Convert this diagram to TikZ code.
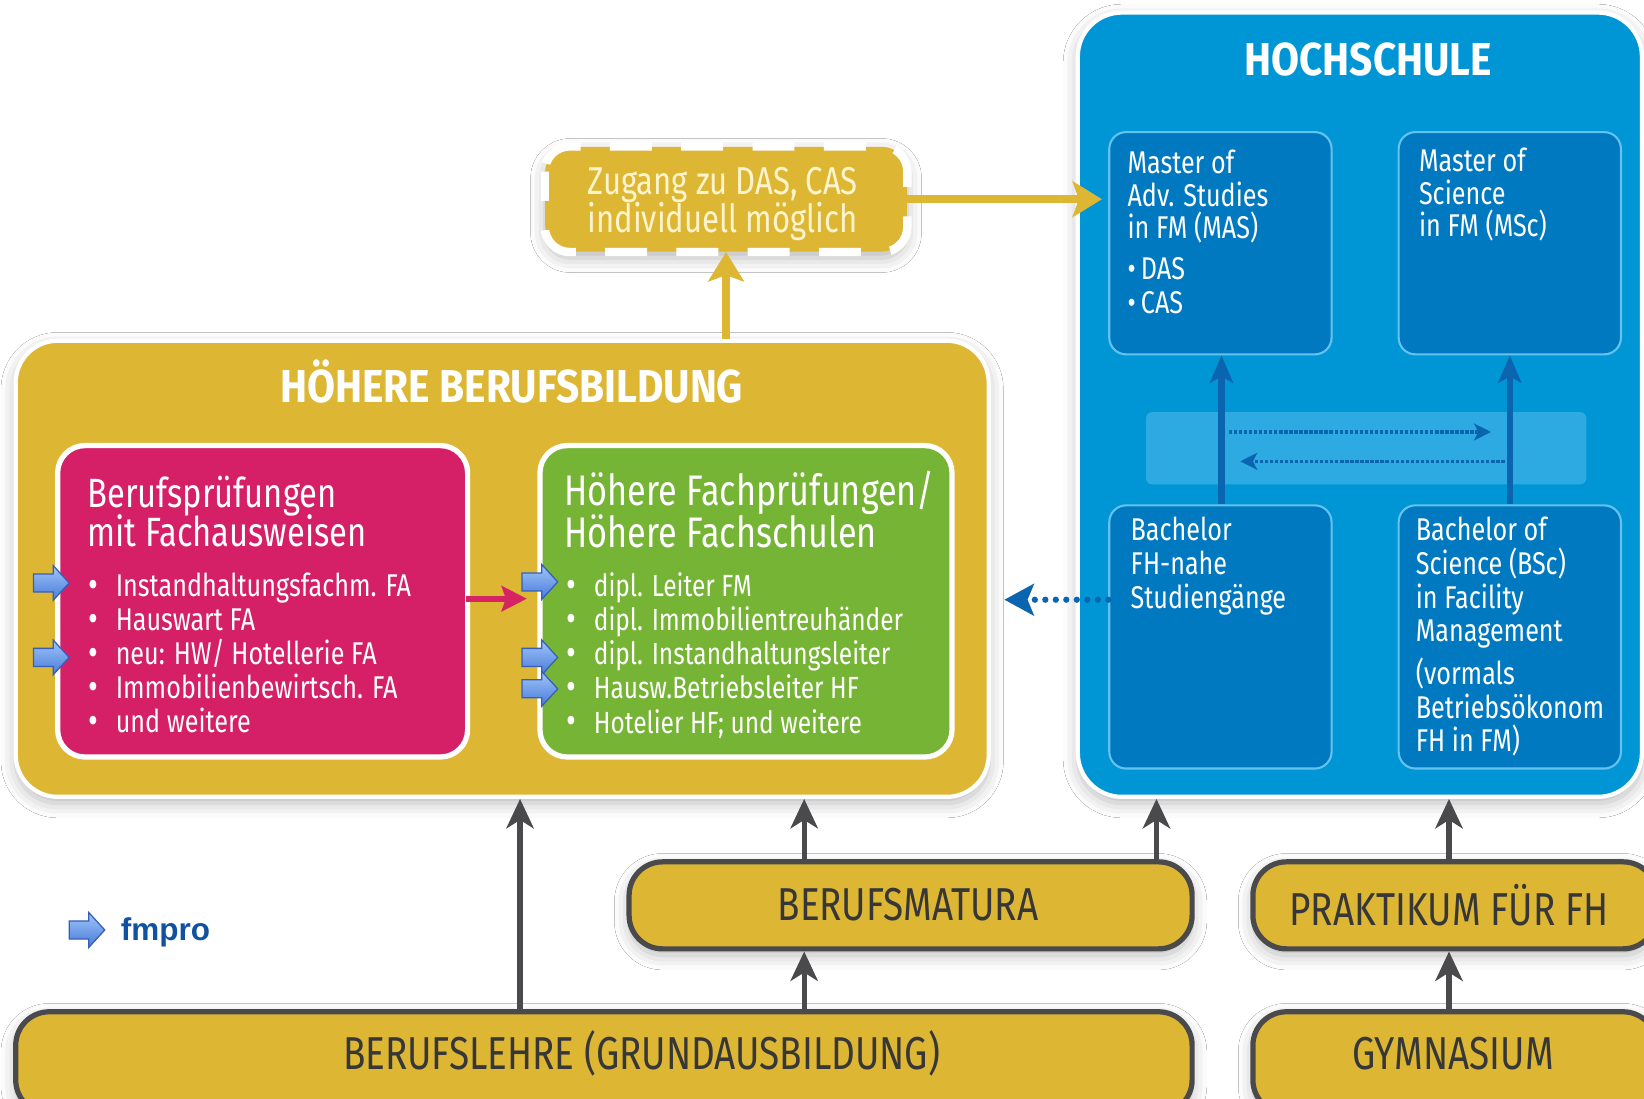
\documentclass[tikz,border=0pt]{standalone}
\usepackage{fontspec}
\setmainfont{Fira Sans}[FakeStretch=0.8]
\newfontfamily\headfont{Fira Sans}[FakeStretch=0.88]
\newfontfamily\fmfont{Liberation Sans}
\usetikzlibrary{arrows.meta,shapes.arrows,shadows.blur,fit,calc}
\definecolor{gold}{RGB}{221,183,52}
\definecolor{pinkbox}{RGB}{213,32,103}
\definecolor{greenbox}{RGB}{117,180,52}
\definecolor{hsblue}{RGB}{0,150,214}
\definecolor{innerblue}{RGB}{0,121,193}
\definecolor{innerline}{RGB}{100,195,238}
\definecolor{bandblue}{RGB}{45,170,226}
\definecolor{darkblue}{RGB}{10,100,175}
\definecolor{greyline}{RGB}{74,74,76}
\definecolor{greytext}{RGB}{55,55,55}
\definecolor{cream}{RGB}{255,244,205}
\definecolor{fmblue}{RGB}{16,82,160}
\definecolor{arrowlight}{RGB}{160,198,248}
\definecolor{arrowdark}{RGB}{72,122,218}
\definecolor{arrowedge}{RGB}{55,95,185}
\definecolor{redarrow}{RGB}{214,36,98}
\newcommand\fsz[2]{\fontsize{#1}{#2}\selectfont\lineskiplimit=-30pt\relax}
\newcommand\bul{\makebox[13pt][l]{\smash{\raisebox{-0.4pt}{\fontsize{18}{18}\selectfont\textbullet}}}}
\tikzset{
  shade/.style={blur shadow={shadow xshift=0pt, shadow yshift=-3pt, shadow blur radius=7pt, shadow opacity=28}},
  boxfit/.style={inner sep=0pt, fit={#1}},
  bigbox/.style={draw=white, line width=2pt, rounded corners=21pt, shade},
  colbox/.style={draw=white, line width=2.5pt, rounded corners=13pt},
  innerbox/.style={draw=innerline, fill=innerblue, line width=1pt, rounded corners=8pt},
  basebox/.style={draw=greyline, fill=gold, line width=2.5pt, rounded corners=16pt, shade},
  wtext/.style={text=white, inner sep=0pt, anchor=north west, align=left},
  ctext/.style={text=cream, inner sep=0pt, anchor=north west, align=left},
  basetext/.style={text=greytext, font=\fsz{22}{24}},
  goldarrow/.style={draw=gold, line width=4pt, -{Stealth[length=14pt,width=17pt,inset=3pt]}},
  greyarrow/.style={draw=greyline, line width=2.5pt, -{Stealth[length=14pt,width=13pt,inset=4pt]}},
  bluearrow/.style={draw=darkblue, line width=3pt, -{Stealth[length=13pt,width=11pt,inset=3pt]}},
  dotarrow/.style={draw=darkblue, line width=1.6pt, dash pattern=on 1.6pt off 0.8pt, -{Stealth[length=8pt,width=8pt,inset=2pt]}},
  bigdot/.style={draw=darkblue, line width=3pt, line cap=round, dash pattern=on 0pt off 5pt, -{Stealth[length=14pt,width=15pt,inset=3pt,line cap=butt]}},
  redarr/.style={draw=redarrow, line width=3pt, -{Stealth[length=12pt,width=12pt,inset=2pt]}},
  fmarrow/.style={single arrow, draw=arrowedge, line width=0.6pt, top color=arrowlight, bottom color=arrowdark,
     minimum height=17pt, minimum width=16pt, inner sep=4pt, single arrow head extend=4pt, single arrow tip angle=95}
}
\begin{document}
\begin{tikzpicture}[x=0.5pt,y=-0.5pt]
\useasboundingbox (0,0) rectangle (1568,1048);
\fill[white] (0,0) rectangle (1568,1048);

% ---- Hochschule ----
\node[bigbox, fill=hsblue, boxfit={(1028,12) (1566,760)}] (hs) {};
\node[text=white, font=\headfont\bfseries\fsz{22}{24}, anchor=base] (hstitle) at (1305,72) {HOCHSCHULE};
\node[fill=bandblue, rounded corners=3pt, boxfit={(1093,393) (1513,462)}] (band) {};
\node[innerbox, boxfit={(1058,126) (1270,338)}] (mas) {};
\node[innerbox, boxfit={(1334,126) (1546,338)}] (msc) {};
\node[innerbox, boxfit={(1058,482) (1270,733)}] (bfh) {};
\node[innerbox, boxfit={(1334,482) (1546,733)}] (bsc) {};
\node[wtext, font=\fsz{15}{15.5}] (mastext) at (1075,143)
  {Master of\\Adv. Studies\\in FM (MAS)\\[4pt]\textbullet\,DAS\\[0.5pt]\textbullet\,CAS};
\node[wtext, font=\fsz{15}{15.5}] (msctext) at (1353,141)
  {Master of\\Science\\in FM (MSc)};
\node[wtext, font=\fsz{15}{16.2}] (bfhtext) at (1078,493)
  {Bachelor\\FH-nahe\\Studiengänge};
\node[wtext, font=\fsz{15}{16}] (bsctext) at (1350,493)
  {Bachelor of\\Science (BSc)\\in Facility\\Management\\[4.5pt](vormals\\Betriebsökonom\\FH in FM)};
\coordinate (c5) at (1165,0);
\coordinate (c6) at (1440,0);
\draw[bluearrow] (bfh.north -| c5) -- (mas.south -| c5);
\draw[bluearrow] (bsc.north -| c6) -- (msc.south -| c6);
\coordinate (d1) at (1172,412);
\coordinate (d2) at (1422,412);
\coordinate (d3) at (1435,440);
\coordinate (d4) at (1183,440);
\draw[dotarrow] (d1) -- (d2);
\draw[dotarrow] (d3) -- (d4);

% ---- Hoehere Berufsbildung ----
\node[bigbox, fill=gold, rounded corners=20pt, boxfit={(15,325) (943,760)}] (hbb) {};
\node[text=white, font=\headfont\bfseries\fsz{22}{24}, anchor=base] (hbbtitle) at (488,384) {HÖHERE BERUFSBILDUNG};
\node[colbox, fill=pinkbox, boxfit={(55,425) (446,722)}] (pink) {};
\node[colbox, fill=greenbox, boxfit={(515,425) (908,722)}] (green) {};
\node[wtext, font=\fsz{19.5}{18.5}] (pinktitle) at (83,454)
  {Berufsprüfungen\\mit Fachausweisen};
\node[wtext, font=\fsz{15}{16.25}] (pinklist) at (84,546)
  {\bul Instandhaltungsfachm. FA\\
   \bul Hauswart FA\\
   \bul neu: HW/ Hotellerie FA\\
   \bul Immobilienbewirtsch. FA\\
   \bul und weitere};
\node[wtext, font=\fsz{20.4}{20}] (greentitle) at (538,449)
  {Höhere Fachprüfungen/\\Höhere Fachschulen};
\node[wtext, font=\fsz{14.6}{16.25}] (greenlist) at (540,546)
  {\bul dipl. Leiter FM\\
   \bul dipl. Immobilientreuhänder\\
   \bul dipl. Instandhaltungsleiter\\
   \bul Hausw.Betriebsleiter HF\\
   \bul Hotelier HF; und weitere};
\coordinate (r) at (0,571);
\draw[redarr, shorten >=5pt, shorten <=-2pt] (pink.east |- r) -- (green.west |- r);

% ---- Zugang ----
\node[fill=gold, rounded corners=12pt, shade, boxfit={(520,140) (865,240)}] (zug) {};
\draw[white, line width=4pt, dash pattern=on 20pt off 14pt, dash phase=6pt, rounded corners=12pt]
  (zug.north west) rectangle (zug.south east);
\node[ctext, font=\fsz{18.5}{18}] (zugtext) at (560,159)
  {Zugang zu DAS, CAS\\individuell möglich};
\draw[goldarrow] (hbb.north -| zug.south) -- (zug.south);
\draw[goldarrow, shorten >=3pt] (zug.east) -- (zug.east -| mas.west);

% ---- fmpro arrows ----
\node[fmarrow] (f1) at (45,556) {};
\node[fmarrow] (f2) at (45,627) {};
\node[fmarrow] (f3) at (511,555) {};
\node[fmarrow] (f4) at (511,627) {};
\node[fmarrow] (f5) at (511,657) {};
\node[fmarrow] (f6) at (79,887) {};
\node[text=fmblue, font=\fmfont\bfseries\fsz{15}{17}, anchor=west, inner sep=0pt] (fmtext) at (115,889) {fmpro};

% ---- bottom boxes ----
\node[basebox, boxfit={(600,822) (1137,905)}] (matura) {};
\node[basebox, boxfit={(1195,822) (1580,905)}] (prak) {};
\node[basebox, boxfit={(15,965) (1137,1062)}] (lehre) {};
\node[basebox, boxfit={(1195,965) (1580,1062)}] (gym) {};
\node[basetext] (maturatext) at (866,863) {BERUFSMATURA};
\node[basetext] (praktext) at (1382,863) {PRAKTIKUM FÜR FH};
\node[basetext] (lehretext) at (612,1005) {BERUFSLEHRE (GRUNDAUSBILDUNG)};
\node[basetext] (gymtext) at (1386,1005) {GYMNASIUM};

\coordinate (c1) at (496,0);
\coordinate (c2) at (767,0);
\coordinate (c3) at (1103,0);
\coordinate (c4) at (1382,0);
\draw[greyarrow] (lehre.north -| c1) -- (hbb.south -| c1);
\draw[greyarrow] (lehre.north -| c2) -- (matura.south -| c2);
\draw[greyarrow] (matura.north -| c2) -- (hbb.south -| c2);
\draw[greyarrow] (matura.north -| c3) -- (hs.south -| c3);
\draw[greyarrow] (gym.north -| c4) -- (prak.south -| c4);
\draw[greyarrow] (prak.north -| c4) -- (hs.south -| c4);

% ---- dotted arrow from Bachelor FH ----
\coordinate (d5) at (958,572);
\draw[bigdot] (bfh.west |- d5) -- (d5);
\end{tikzpicture}
\end{document}
